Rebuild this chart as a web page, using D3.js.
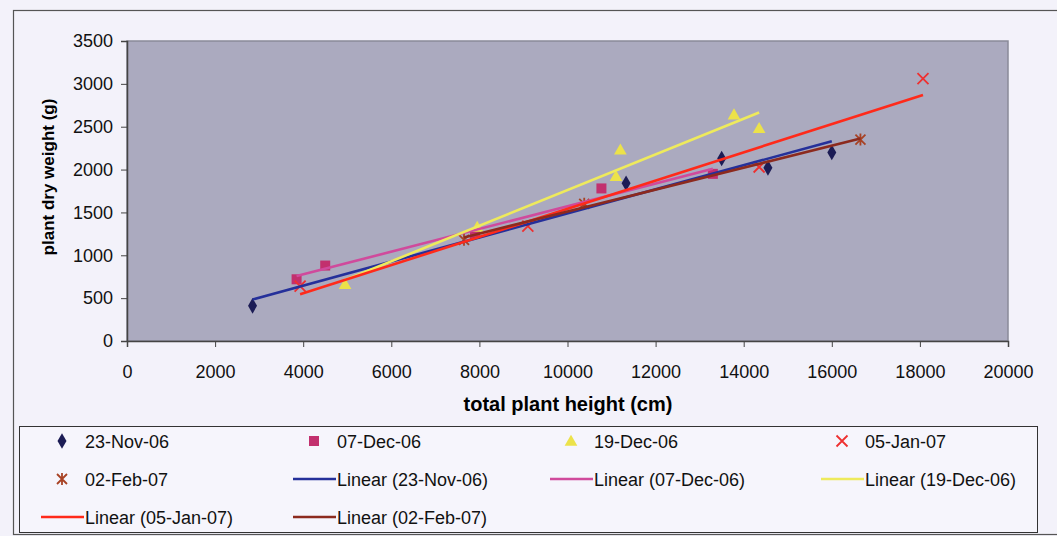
<!DOCTYPE html>
<html>
<head>
<meta charset="utf-8">
<script src="https://cdn.jsdelivr.net/npm/d3@7"></script>
<style>
  html, body { margin: 0; padding: 0; background: #f3f2fa; }
  svg { display: block; font-family: "Liberation Sans", Arial, sans-serif; }
</style>
</head>
<body>
<div id="graph"></div>
<script>
// series names
const seriesNames = ["23-Nov-06", "07-Dec-06", "19-Dec-06", "05-Jan-07", "02-Feb-07"];

// total plant height (cm) per series
const nov23X = [2850, 11330, 13500, 14550, 16000];
const dec07X = [3850, 4500, 7900, 10770, 13300];
const dec19X = [4950, 7950, 11100, 11200, 13780, 14350];
const jan05X = [3930, 9100, 14350, 18070];
const feb02X = [7650, 10380, 16650];

// plant dry weight (g) per series
const nov23Y = [410, 1840, 2130, 2020, 2200];
const dec07Y = [720, 880, 1250, 1780, 1950];
const dec19Y = [660, 1330, 1920, 2230, 2640, 2480];
const jan05Y = [640, 1340, 2030, 3060];
const feb02Y = [1180, 1600, 2350];

const xTicks = [0, 2000, 4000, 6000, 8000, 10000, 12000, 14000, 16000, 18000, 20000];
const yTicks = [0, 500, 1000, 1500, 2000, 2500, 3000, 3500];

let width = 1057, height = 536;

let markerColors = ["#1c1c55", "#c2306e", "#ece24a", "#ee3030", "#a84224"];
let lineColors = ["#25309a", "#d04a9c", "#eeea5c", "#ff2a1a", "#8c2a1e"];
let shapes = ["diamond", "square", "triangle", "x", "star"];

let allX = [nov23X, dec07X, dec19X, jan05X, feb02X];
let allY = [nov23Y, dec07Y, dec19Y, jan05Y, feb02Y];

let series = seriesNames.map(function (name, i) {
    return { name: name, pts: allX[i].map(function (x, j) { return { x: x, y: allY[i][j] }; }) };
});

// least squares fit, like Excel's linear trendline
function linFit(pts) {
    let mx = d3.mean(pts, d => d.x), my = d3.mean(pts, d => d.y);
    let sxy = d3.sum(pts, d => (d.x - mx) * (d.y - my));
    let sxx = d3.sum(pts, d => (d.x - mx) * (d.x - mx));
    let b = sxy / sxx;
    let a = my - b * mx;
    let ext = d3.extent(pts, d => d.x);
    return [{ x: ext[0], y: a + b * ext[0] }, { x: ext[1], y: a + b * ext[1] }];
}

let svg = d3.select("#graph").append("svg")
    .attr("width", width)
    .attr("height", height);

// chart frame
svg.append("rect")
    .attr("x", 13.5).attr("y", 10.5)
    .attr("width", 1060).attr("height", 524)
    .attr("fill", "#f3f2fa")
    .attr("stroke", "#555").attr("stroke-width", 1.2);

let plot = { left: 127, right: 1008, top: 41, bottom: 341 };

let xScale = d3.scaleLinear().domain([0, 20000]).range([plot.left, plot.right]);
let yScale = d3.scaleLinear().domain([0, 3500]).range([plot.bottom, plot.top]);

svg.append("rect")
    .attr("x", plot.left).attr("y", plot.top)
    .attr("width", plot.right - plot.left).attr("height", plot.bottom - plot.top)
    .attr("fill", "#abaabf")
    .attr("stroke", "#8a8a99").attr("stroke-width", 1.5);

let xg = svg.append("g")
    .attr("transform", "translate(0," + plot.bottom + ")")
    .call(d3.axisBottom(xScale).tickValues(xTicks).tickSize(6).tickPadding(18).tickFormat(d3.format("d")));
let yg = svg.append("g")
    .attr("transform", "translate(" + plot.left + ",0)")
    .call(d3.axisLeft(yScale).tickValues(yTicks).tickSize(6).tickPadding(8).tickFormat(d3.format("d")));

[xg, yg].forEach(function (g) {
    g.select(".domain").attr("stroke", "#444").attr("stroke-width", 1.5);
    g.selectAll(".tick line").attr("stroke", "#444");
    g.selectAll("text").attr("font-size", "18px").attr("fill", "#111")
        .attr("font-family", "'Liberation Sans', Arial, sans-serif");
});

svg.append("text")
    .attr("x", 568)
    .attr("y", 411)
    .attr("text-anchor", "middle")
    .attr("font-size", "20px").attr("font-weight", "bold")
    .text("total plant height (cm)");

svg.append("text")
    .attr("transform", "translate(54," + ((plot.top + plot.bottom) / 2 - 14) + ") rotate(-90)")
    .attr("text-anchor", "middle")
    .attr("font-size", "17px").attr("font-weight", "bold")
    .text("plant dry weight (g)");

function drawMarker(g, shape, color, cx, cy) {
    if (shape === "diamond") {
        g.append("path").attr("d", d3.symbol(d3.symbolDiamond, 70)())
            .attr("transform", "translate(" + cx + "," + cy + ")").attr("fill", color);
    } else if (shape === "square") {
        g.append("rect").attr("x", cx - 5).attr("y", cy - 5).attr("width", 10).attr("height", 10).attr("fill", color);
    } else if (shape === "triangle") {
        g.append("path").attr("d", d3.symbol(d3.symbolTriangle, 70)())
            .attr("transform", "translate(" + cx + "," + (cy + 1) + ")").attr("fill", color);
    } else if (shape === "x") {
        g.append("path").attr("d", "M-5.5,-5.5L5.5,5.5M-5.5,5.5L5.5,-5.5")
            .attr("transform", "translate(" + cx + "," + cy + ")")
            .attr("stroke", color).attr("stroke-width", 1.8).attr("fill", "none");
    } else {
        g.append("path").attr("d", "M-5,-5L5,5M-5,5L5,-5M0,-6L0,6")
            .attr("transform", "translate(" + cx + "," + cy + ")")
            .attr("stroke", color).attr("stroke-width", 1.8).attr("fill", "none");
    }
}

// markers
series.forEach(function (s, i) {
    let g = svg.append("g").attr("class", "markers");
    s.pts.forEach(function (p) {
        drawMarker(g, shapes[i], markerColors[i], xScale(p.x), yScale(p.y));
    });
});

// trendlines
let line = d3.line().x(d => xScale(d.x)).y(d => yScale(d.y));
series.forEach(function (s, i) {
    svg.append("path")
        .datum(linFit(s.pts))
        .attr("d", line)
        .attr("fill", "none")
        .attr("stroke", lineColors[i])
        .attr("stroke-width", 2.6);
});

// legend
svg.append("rect")
    .attr("x", 19.5).attr("y", 426.5)
    .attr("width", 1018).attr("height", 106)
    .attr("fill", "#f6f5fc")
    .attr("stroke", "#333").attr("stroke-width", 1);

let legendItems = [];
seriesNames.forEach(function (n, i) { legendItems.push({ label: n, kind: "marker", i: i }); });
seriesNames.forEach(function (n, i) { legendItems.push({ label: "Linear (" + n + ")", kind: "line", i: i }); });

let colX = [41, 293, 550, 821];
let rowY = [441, 479, 517];

legendItems.forEach(function (item, k) {
    let cx = colX[k % 4], cy = rowY[Math.floor(k / 4)];
    let g = svg.append("g");
    if (item.kind === "marker") {
        drawMarker(g, shapes[item.i], markerColors[item.i], cx + 21, cy);
    } else {
        g.append("line").attr("x1", cx).attr("x2", cx + 43).attr("y1", cy).attr("y2", cy)
            .attr("stroke", lineColors[item.i]).attr("stroke-width", 2.6);
    }
    g.append("text")
        .attr("x", cx + 44).attr("y", cy + 6.5)
        .attr("font-size", "18px").attr("fill", "#111")
        .text(item.label);
});
</script>
</body>
</html>
